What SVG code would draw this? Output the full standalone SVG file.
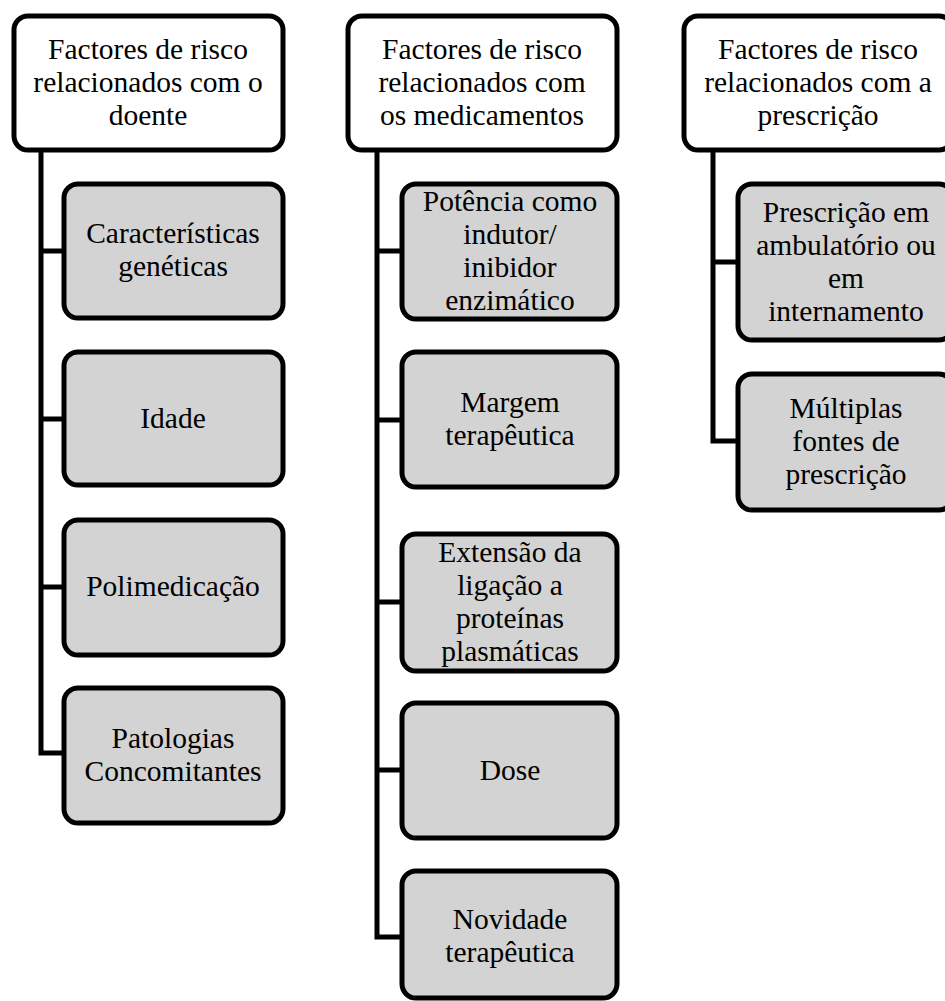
<svg xmlns="http://www.w3.org/2000/svg" width="945" height="1001" viewBox="0 0 945 1001">
<style>
.hdr{fill:#ffffff;stroke:#000000;stroke-width:5}
.box{fill:#d3d3d3;stroke:#000000;stroke-width:5}
.t{font-family:"Liberation Serif","Times New Roman",serif;font-size:29.5px;fill:#000000;text-anchor:middle}
.c{fill:none;stroke:#000000;stroke-width:5}
</style>
<rect width="945" height="1001" fill="#ffffff"/>
<g id="connectors">
<path class="c" d="M41,150 V753 H63 M41,251 H63 M41,419 H63 M41,587 H63"/>
<path class="c" d="M377,150 V937 H402 M377,251 H402 M377,420 H402 M377,602 H402 M377,770 H402"/>
<path class="c" d="M713,150 V441 H737 M713,262 H737"/>
</g>
<g id="h1"><rect class="hdr" x="14" y="16" width="269" height="134" rx="14"/>
<text class="t" x="148" y="59">Factores de risco</text><text class="t" x="148" y="92">relacionados com o</text><text class="t" x="148" y="125">doente</text></g>
<g id="h2"><rect class="hdr" x="348" y="16" width="269" height="134" rx="14"/>
<text class="t" x="482" y="59">Factores de risco</text><text class="t" x="482" y="92">relacionados com</text><text class="t" x="482" y="125">os medicamentos</text></g>
<g id="h3"><rect class="hdr" x="684" y="16" width="269" height="134" rx="14"/>
<text class="t" x="818" y="59">Factores de risco</text><text class="t" x="818" y="92">relacionados com a</text><text class="t" x="818" y="125">prescrição</text></g>
<g id="n1"><rect class="box" x="64" y="184" width="219" height="134" rx="14"/>
<text class="t" x="173" y="243">Características</text><text class="t" x="173" y="276">genéticas</text></g>
<g id="n2"><rect class="box" x="64" y="352" width="219" height="133" rx="14"/>
<text class="t" x="173" y="428">Idade</text></g>
<g id="n3"><rect class="box" x="64" y="520" width="219" height="135" rx="14"/>
<text class="t" x="173" y="596">Polimedicação</text></g>
<g id="n4"><rect class="box" x="64" y="688" width="219" height="135" rx="14"/>
<text class="t" x="173" y="748">Patologias</text><text class="t" x="173" y="781">Concomitantes</text></g>
<g id="m1"><rect class="box" x="402" y="184" width="215" height="135" rx="14"/>
<text class="t" x="510" y="211">Potência como</text><text class="t" x="510" y="244">indutor/</text><text class="t" x="510" y="277">inibidor</text><text class="t" x="510" y="310">enzimático</text></g>
<g id="m2"><rect class="box" x="402" y="352" width="215" height="135" rx="14"/>
<text class="t" x="510" y="412">Margem</text><text class="t" x="510" y="445">terapêutica</text></g>
<g id="m3"><rect class="box" x="402" y="534" width="215" height="137" rx="14"/>
<text class="t" x="510" y="562">Extensão da</text><text class="t" x="510" y="595">ligação a</text><text class="t" x="510" y="628">proteínas</text><text class="t" x="510" y="661">plasmáticas</text></g>
<g id="m4"><rect class="box" x="402" y="703" width="215" height="135" rx="14"/>
<text class="t" x="510" y="780">Dose</text></g>
<g id="m5"><rect class="box" x="402" y="871" width="215" height="127" rx="14"/>
<text class="t" x="510" y="929">Novidade</text><text class="t" x="510" y="962">terapêutica</text></g>
<g id="p1"><rect class="box" x="738" y="184" width="215" height="156" rx="14"/>
<text class="t" x="846" y="222">Prescrição em</text><text class="t" x="846" y="255">ambulatório ou</text><text class="t" x="846" y="288">em</text><text class="t" x="846" y="321">internamento</text></g>
<g id="p2"><rect class="box" x="738" y="374" width="215" height="136" rx="14"/>
<text class="t" x="846" y="418">Múltiplas</text><text class="t" x="846" y="451">fontes de</text><text class="t" x="846" y="484">prescrição</text></g>
</svg>
